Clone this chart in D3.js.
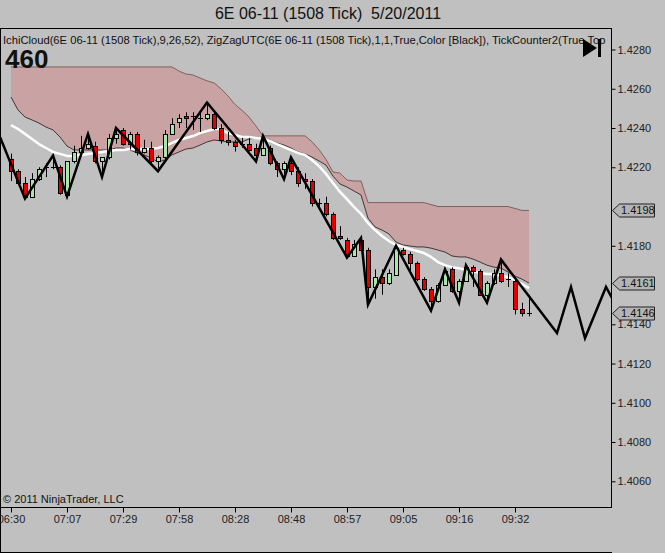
<!DOCTYPE html>
<html><head><meta charset="utf-8">
<script src="https://cdn.jsdelivr.net/npm/d3@7"></script>
<style>body{margin:0;background:#c0c0c0;}svg{display:block;font-family:'Liberation Sans',Arial,sans-serif;}</style>
</head><body><svg id="c" width="665" height="553"></svg>
<script>
// ---------- data ----------
const titleText = "6E 06-11 (1508 Tick)  5/20/2011";
const indicatorText = "IchiCloud(6E 06-11 (1508 Tick),9,26,52), ZigZagUTC(6E 06-11 (1508 Tick),1,1,True,Color [Black]), TickCounter2(True,Top";
const tickCount = "460";
const timeLabels = ["06:30","07:07","07:29","07:58","08:28","08:48","08:57","09:05","09:16","09:32"];
const timeTickBars = [0,8,16,24,32,40,48,56,64,72];
// 1.4200 and 1.4160 are hidden under the price markers in the reference
const priceTicks = [1.4060,1.4080,1.4100,1.4120,1.4140,1.4180,1.4220,1.4240,1.4260,1.4280];
const priceMarkers = [1.4198,1.4161,1.4146];

const opens = [1.4224,1.4218,1.4212,1.4205,1.4214,1.4220,1.4220,1.4220,1.4206,1.4223,
1.4228,1.4230,1.4231,1.4223,1.4225,1.4235,1.4239,1.4232,1.4237,1.4228,
1.4230,1.4223,1.4225,1.4237,1.4243,1.4246,1.4246,1.4245,1.4245,1.4247,
1.4240,1.4234,1.4233,1.4232,1.4232,1.4230,1.4226,1.4230,1.4222,1.4219,
1.4222,1.4218,1.4214,1.4213,1.4202,1.4202,1.4196,1.4185,1.4183,1.4175,
1.4183,1.4178,1.4159,1.4164,1.4161,1.4165,1.4178,1.4176,1.4171,1.4163,
1.4158,1.4152,1.4160,1.4168,1.4157,1.4162,1.4169,1.4167,1.4155,1.4161,
1.4166,1.4163,1.4162,1.4148,1.4146];
const closes = [1.4218,1.4212,1.4205,1.4214,1.4219,1.4220,1.4220,1.4207,1.4223,1.4228,
1.4230,1.4232,1.4223,1.4225,1.4235,1.4237,1.4232,1.4237,1.4228,1.4230,
1.4223,1.4225,1.4237,1.4242,1.4245,1.4245,1.4246,1.4245,1.4247,1.4240,
1.4234,1.4233,1.4231,1.4232,1.4229,1.4226,1.4230,1.4222,1.4219,1.4222,
1.4218,1.4212,1.4213,1.4202,1.4202,1.4196,1.4184,1.4184,1.4175,1.4181,
1.4178,1.4159,1.4164,1.4161,1.4166,1.4179,1.4176,1.4171,1.4163,1.4158,
1.4152,1.4160,1.4167,1.4157,1.4162,1.4169,1.4167,1.4155,1.4161,1.4166,
1.4162,1.4163,1.4148,1.4146,1.4146];
const highs = [1.4227,1.4219,1.4215,1.4217,1.4220,1.4222,1.4226,1.4221,1.4223,1.4231,
1.4236,1.4237,1.4233,1.4225,1.4237,1.4240,1.4240,1.4238,1.4238,1.4234,
1.4233,1.4226,1.4239,1.4245,1.4247,1.4248,1.4248,1.4248,1.4253,1.4248,
1.4242,1.4238,1.4234,1.4235,1.4235,1.4232,1.4236,1.4231,1.4223,1.4223,
1.4225,1.4220,1.4217,1.4214,1.4204,1.4205,1.4197,1.4190,1.4184,1.4183,
1.4184,1.4179,1.4168,1.4168,1.4168,1.4180,1.4179,1.4177,1.4172,1.4164,
1.4159,1.4161,1.4168,1.4169,1.4163,1.4170,1.4170,1.4168,1.4162,1.4168,
1.4173,1.4166,1.4163,1.4151,1.4155];
const lows = [1.4213,1.4211,1.4204,1.4205,1.4213,1.4215,1.4219,1.4206,1.4205,1.4222,
1.4227,1.4229,1.4222,1.4215,1.4224,1.4232,1.4231,1.4229,1.4226,1.4227,
1.4222,1.4218,1.4224,1.4237,1.4240,1.4240,1.4239,1.4238,1.4244,1.4239,
1.4232,1.4231,1.4228,1.4230,1.4228,1.4223,1.4226,1.4221,1.4215,1.4214,
1.4216,1.4210,1.4209,1.4200,1.4200,1.4195,1.4183,1.4183,1.4174,1.4175,
1.4177,1.4150,1.4153,1.4155,1.4160,1.4165,1.4175,1.4167,1.4162,1.4157,
1.4147,1.4151,1.4160,1.4156,1.4151,1.4162,1.4159,1.4155,1.4151,1.4160,
1.4161,1.4159,1.4145,1.4144,1.4144];

const spanB = [1.42711,1.42711,1.42711,1.42711,1.42711,1.42711,1.42711,1.42711,1.42711,1.42711,
1.42711,1.42711,1.42711,1.42711,1.42711,1.42711,1.42711,1.42711,1.42711,1.42711,
1.42711,1.42711,1.42711,1.42711,1.4269,1.42675,1.4267,1.42655,1.4264,1.4263,
1.4260,1.42563,1.4252,1.4249,1.42456,1.4241,1.4236,1.4236,1.4236,1.4236,
1.4236,1.4236,1.4236,1.4233,1.4229,1.4224,1.42176,1.4217,1.42135,1.4213,
1.4213,1.4202,1.4202,1.4202,1.4202,1.4202,1.4202,1.4202,1.4202,1.4202,
1.4201,1.4200,1.4200,1.4200,1.4200,1.4200,1.4200,1.4200,1.4200,1.4200,
1.4200,1.4200,1.4199,1.4198,1.4198];
const spanA = [1.42558,1.42492,1.42456,1.42441,1.42425,1.42405,1.42390,1.42354,1.42308,1.42288,
1.42288,1.42288,1.42288,1.42288,1.42288,1.42298,1.42298,1.42288,1.42273,1.42263,
1.42247,1.42227,1.42237,1.42263,1.42278,1.42293,1.42298,1.42313,1.42329,1.42339,
1.42334,1.42329,1.42329,1.42329,1.42344,1.42349,1.42344,1.42339,1.42324,1.42313,
1.42298,1.42278,1.42268,1.42252,1.42232,1.42211,1.42155,1.42115,1.42099,1.42079,
1.42059,1.41941,1.41896,1.41880,1.41860,1.41819,1.41804,1.41799,1.41794,1.41794,
1.41788,1.41778,1.41768,1.41748,1.41743,1.41743,1.41732,1.41717,1.41701,1.41691,
1.41686,1.41666,1.41645,1.41630,1.41610];
const baseLine = [1.42415,1.42395,1.42370,1.42344,1.42318,1.42298,1.42278,1.42268,1.42258,1.42258,
1.42263,1.42268,1.42273,1.42278,1.42283,1.42288,1.42288,1.42293,1.42293,1.42293,
1.42293,1.42298,1.42308,1.42324,1.42339,1.42349,1.42359,1.42374,1.42385,1.42395,
1.42395,1.42374,1.42364,1.42354,1.42354,1.42349,1.42344,1.42334,1.42318,1.42303,
1.42288,1.42273,1.42263,1.42237,1.42206,1.42166,1.42120,1.42074,1.42038,1.41998,
1.41962,1.41916,1.41880,1.41850,1.41824,1.41804,1.41794,1.41783,1.41773,1.41763,
1.41743,1.41717,1.41701,1.41691,1.41686,1.41676,1.41671,1.41661,1.41656,1.41656,
1.41650,1.41640,1.41625,1.41605,1.41584];

const zigzagBars = [-1.57,2,6,8,11,13,15,21,28,35,36,39,40,48,50,51,55,60,62,64,65,68,70,78,80,82,85,89];
const zigzagPrices = [1.42354,1.4204,1.4226,1.4205,1.4237,1.4215,1.4240,1.4218,1.4253,1.4223,1.4236,1.4214,1.4225,1.4174,1.4184,1.4150,1.4180,1.4147,1.4168,1.4151,1.4170,1.4151,1.4173,1.41355,1.4159,1.4133,1.4159,1.4133];

// ---------- layout ----------
const W = 665, H = 553;
const plot = {left:0, right:611, top:28, bottom:507};
const svg = d3.select("#c");
svg.append("rect").attr("width",W).attr("height",H).attr("fill","#c0c0c0");

const x = d3.scaleLinear().domain([0,74]).range([11,529]);
const y = d3.scaleLinear().domain([1.4060,1.4280]).range([481.3,49.5]);

svg.append("defs").append("clipPath").attr("id","pc")
  .append("rect").attr("x",plot.left+1).attr("y",plot.top+1)
  .attr("width",plot.right-plot.left-1).attr("height",plot.bottom-plot.top-1);

const g = svg.append("g").attr("clip-path","url(#pc)");
const idx = d3.range(opens.length);

// cloud
const area = d3.area().x(i=>x(i)).y0(i=>y(spanA[i])).y1(i=>y(spanB[i]));
g.append("path").datum(idx).attr("d",area).attr("fill","#c9a3a3");
g.append("path").datum(idx).attr("d",d3.line().x(i=>x(i)).y(i=>y(spanB[i])))
  .attr("fill","none").attr("stroke","#80605f").attr("stroke-width",1);
g.append("path").datum(idx).attr("d",d3.line().x(i=>x(i)).y(i=>y(spanA[i])))
  .attr("fill","none").attr("stroke","#4a3232").attr("stroke-width",1);

// white line
g.append("path").datum(idx).attr("d",d3.line().x(i=>x(i)).y(i=>y(baseLine[i])))
  .attr("fill","none").attr("stroke","#ffffff").attr("stroke-width",2.5).attr("stroke-linejoin","round");

// candles
const cg = g.append("g");
idx.forEach(i=>{
  const cx = Math.round(x(i));
  cg.append("line").attr("x1",cx+0.5).attr("x2",cx+0.5)
    .attr("y1",y(highs[i])).attr("y2",y(lows[i])).attr("stroke","#000").attr("stroke-width",1);
  const o = opens[i], c = closes[i];
  if (Math.abs(o-c) < 0.00005) {
    const yy = Math.round(y(o))+0.5;
    cg.append("line").attr("x1",cx-2).attr("x2",cx+3).attr("y1",yy).attr("y2",yy)
      .attr("stroke","#000").attr("stroke-width",1);
  } else {
    const top = Math.round(y(Math.max(o,c)))+0.5, bot = Math.round(y(Math.min(o,c)))+0.5;
    cg.append("rect").attr("x",cx-1.5).attr("y",top).attr("width",4).attr("height",Math.max(1,bot-top))
      .attr("fill", c>o ? "#a9e6a9" : "#e00000").attr("stroke","#000").attr("stroke-width",1);
  }
});

// zigzag
g.append("path").datum(d3.range(zigzagBars.length))
  .attr("d",d3.line().x(k=>x(zigzagBars[k])).y(k=>y(zigzagPrices[k])))
  .attr("fill","none").attr("stroke","#000").attr("stroke-width",2.5).attr("stroke-linejoin","miter");

// plot frame
svg.append("rect").attr("x",plot.left+0.5).attr("y",plot.top+0.5)
  .attr("width",plot.right-plot.left).attr("height",plot.bottom-plot.top)
  .attr("fill","none").attr("stroke","#000");
// time axis panel lines
svg.append("line").attr("x1",0.5).attr("x2",0.5).attr("y1",plot.bottom).attr("y2",H).attr("stroke","#000");
svg.append("line").attr("x1",0).attr("x2",plot.right+1).attr("y1",H-0.5).attr("y2",H-0.5).attr("stroke","#000");

// texts inside plot
const tg = svg.append("g").attr("clip-path","url(#pc)");
tg.append("text").attr("x",3).attr("y",44).attr("font-size",11.2).attr("fill","#111").text(indicatorText);
tg.append("text").attr("x",5).attr("y",68).attr("font-size",26).attr("font-weight","bold").attr("fill","#111").text(tickCount);
tg.append("text").attr("x",3).attr("y",503).attr("font-size",11).attr("fill","#111").text("© 2011 NinjaTrader, LLC");

// ▶| icon
svg.append("path").attr("d","M583,39 L597,48 L583,57 Z").attr("fill","#000");
svg.append("rect").attr("x",598).attr("y",39).attr("width",3).attr("height",18).attr("fill","#000");

// title
svg.append("text").attr("x",328).attr("y",19).attr("text-anchor","middle").attr("font-size",16)
  .attr("fill","#111").style("white-space","pre").text(titleText);

// right axis
const ra = svg.append("g").attr("transform",`translate(${plot.right+0.5},0)`)
  .call(d3.axisRight(y).tickValues(priceTicks).tickFormat(d3.format(".4f")).tickSize(4).tickPadding(2));
ra.select(".domain").remove();
ra.selectAll("text").attr("font-size",11).attr("fill","#222").attr("font-family","'Liberation Sans',Arial,sans-serif");
ra.selectAll("line").attr("stroke","#000");

// price markers
priceMarkers.forEach(p=>{
  const yy = Math.round(y(p))+0.5;
  svg.append("path").attr("d",`M612.5,${yy} L619.5,${yy-6.5} L654.5,${yy-6.5} L654.5,${yy+6.5} L619.5,${yy+6.5} Z`)
    .attr("fill","#b4b4b4").attr("stroke","#222").attr("stroke-width",1);
  svg.append("text").attr("x",621).attr("y",yy).attr("dy","0.36em").attr("font-size",11)
    .attr("fill","#111").text(d3.format(".4f")(p));
});

// time axis
const ta = svg.append("g").attr("transform",`translate(0,${plot.bottom+0.5})`)
  .call(d3.axisBottom(x).tickValues(timeTickBars).tickFormat((d,k)=>timeLabels[k]).tickSize(5).tickPadding(3));
ta.select(".domain").remove();
ta.selectAll("text").attr("font-size",11).attr("fill","#222").attr("font-family","'Liberation Sans',Arial,sans-serif");
ta.selectAll("line").attr("stroke","#000");
</script></body></html>
